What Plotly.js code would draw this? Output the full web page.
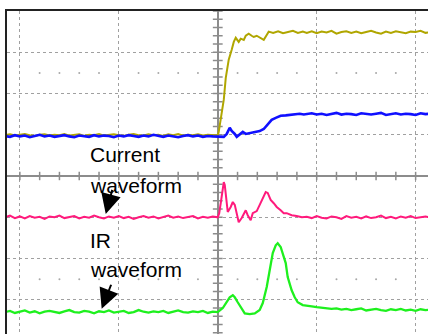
<!DOCTYPE html>
<html>
<head>
<meta charset="utf-8">
<script src="https://cdn.plot.ly/plotly-3.0.1.min.js"></script>
<style>html,body{margin:0;padding:0;background:#fff;}#chart{width:428px;height:334px;}</style>
</head>
<body>
<div id="chart"></div>
<script>
// time in screen divisions relative to the trigger (x = 0)
const tPre = [-2.15,-2.10,-2.05,-2.00,-1.95,-1.90,-1.85,-1.80,-1.75,-1.70,-1.65,
              -1.60,-1.55,-1.50,-1.45,-1.40,-1.35,-1.30,-1.25,-1.20,-1.15,-1.10,
              -1.05,-1.00,-0.95,-0.90,-0.85,-0.80,-0.75,-0.70,-0.65,-0.60,-0.55,
              -0.50,-0.45,-0.40,-0.35,-0.30,-0.25,-0.20,-0.15,-0.10,-0.05,0.00];
const tTail = [0.90,0.95,1.00,1.05,1.10,1.15,1.20,1.25,1.30,1.35,1.40,1.45,1.50,
               1.55,1.60,1.65,1.70,1.75,1.80,1.85,1.90,1.95,2.00,2.05,2.10,2.15];

// olive trace (step)
const olivePre = [0.99,1.01,0.98,1.00,1.02,0.99,0.97,1.00,1.01,0.98,1.00,
                  0.99,1.02,0.98,0.99,1.01,0.97,1.00,0.99,1.02,0.98,1.00,
                  1.01,0.99,0.97,1.00,1.02,0.99,0.98,1.01,0.99,1.00,0.97,
                  1.01,0.99,1.02,0.98,1.00,0.99,1.01,0.98,1.00,0.99,0.98];
const oliveT = [0.01,0.03,0.061,0.081,0.091,0.111,0.141,0.162,0.182,0.212,
                0.232,0.263,0.283,0.313,0.343,0.364,0.394,0.414,0.444,0.465,
                0.495,0.515,0.56,0.61,0.66,0.71,0.76,0.81,0.86];
const oliveV = [1.07,1.36,1.85,2.38,2.57,2.82,3.06,3.25,3.35,3.25,
                3.33,3.30,3.40,3.45,3.40,3.37,3.40,3.37,3.33,3.30,
                3.42,3.50,3.47,3.51,3.46,3.49,3.52,3.47,3.50];
const oliveTail = [3.47,3.51,3.46,3.50,3.48,3.52,3.45,3.49,3.51,3.47,
                   3.50,3.46,3.49,3.52,3.48,3.45,3.50,3.47,3.51,3.48,
                   3.46,3.50,3.49,3.52,3.47,3.49];

// blue trace (slow step)
const bluePre = [0.97,0.95,0.99,0.96,0.98,0.94,0.97,1.00,0.96,0.98,0.95,
                 0.97,0.99,0.96,0.94,0.98,0.97,0.95,0.99,0.96,0.98,0.97,
                 0.94,0.98,0.96,0.99,0.97,0.95,0.98,0.96,1.00,0.97,0.95,
                 0.98,0.96,0.94,0.97,0.99,0.96,0.98,0.95,0.97,0.96,0.95];
const blueT = [0.03,0.061,0.091,0.121,0.141,0.172,0.192,0.222,0.253,0.283,
               0.323,0.374,0.424,0.465,0.505,0.545,0.586,0.636,0.687,0.727,
               0.778,0.828,0.87];
const blueV = [0.96,0.95,1.02,1.17,1.09,1.02,0.95,1.02,1.07,1.02,
               1.04,1.07,1.09,1.14,1.26,1.36,1.41,1.46,1.47,1.48,
               1.50,1.51,1.49];
const blueTail = [1.50,1.52,1.49,1.51,1.48,1.50,1.53,1.49,1.51,1.50,
                  1.48,1.52,1.50,1.49,1.51,1.53,1.48,1.50,1.52,1.49,
                  1.51,1.50,1.48,1.52,1.50,1.51];

// current waveform (pink)
const pinkPre = [-1.00,-0.96,-1.02,-0.98,-1.03,-0.97,-1.01,-0.99,-1.04,-0.98,-1.00,
                 -0.96,-1.02,-1.00,-0.97,-1.03,-0.99,-1.01,-0.96,-1.00,-1.03,-0.98,
                 -1.01,-0.97,-1.02,-0.99,-1.04,-1.00,-0.97,-1.01,-0.98,-1.03,-0.99,
                 -0.96,-1.01,-0.98,-1.02,-1.00,-0.97,-1.03,-0.99,-1.01,-0.98,-1.00];
const pinkT = [0.015,0.03,0.051,0.061,0.071,0.091,0.101,0.131,0.152,0.172,
               0.192,0.212,0.242,0.263,0.283,0.303,0.333,0.354,0.394,0.424,
               0.455,0.485,0.505,0.535,0.566,0.596,0.636,0.667,0.697,0.747,
               0.798,0.85];
const pinkV = [-0.90,-0.66,-0.27,-0.15,-0.22,-0.66,-0.87,-0.75,-0.63,-0.70,
               -0.90,-1.12,-1.02,-0.90,-0.83,-0.95,-1.07,-0.90,-0.85,-0.70,
               -0.53,-0.39,-0.41,-0.58,-0.66,-0.75,-0.83,-0.90,-0.90,-0.95,
               -0.97,-1.00];
const pinkTail = [-0.99,-1.02,-0.97,-1.01,-1.03,-0.98,-1.00,-1.04,-0.97,-1.01,
                  -0.99,-1.03,-0.98,-1.02,-1.00,-0.96,-1.02,-0.99,-1.03,-0.98,
                  -1.01,-0.97,-1.02,-1.00,-0.98,-1.01];

// IR waveform (green)
const greenPre = [-3.30,-3.27,-3.32,-3.29,-3.26,-3.31,-3.28,-3.33,-3.29,-3.27,-3.30,
                  -3.32,-3.28,-3.25,-3.30,-3.31,-3.27,-3.29,-3.33,-3.28,-3.30,-3.26,
                  -3.31,-3.29,-3.27,-3.32,-3.30,-3.25,-3.29,-3.31,-3.28,-3.30,-3.27,
                  -3.32,-3.29,-3.26,-3.30,-3.31,-3.28,-3.30,-3.27,-3.32,-3.29,-3.30];
const greenT = [0.051,0.091,0.121,0.152,0.172,0.202,0.242,0.273,0.323,0.374,
                0.424,0.455,0.495,0.525,0.556,0.586,0.606,0.636,0.657,0.687,
                0.707,0.747,0.778,0.808,0.859];
const greenV = [-3.20,-3.06,-2.94,-2.89,-2.94,-3.06,-3.20,-3.33,-3.35,-3.33,
                -3.25,-3.08,-2.69,-2.28,-1.87,-1.68,-1.63,-1.72,-1.87,-2.11,
                -2.45,-2.77,-2.94,-3.06,-3.13];
const greenTail = [-3.15,-3.16,-3.18,-3.19,-3.20,-3.22,-3.21,-3.24,-3.22,-3.25,
                   -3.23,-3.21,-3.26,-3.24,-3.22,-3.25,-3.27,-3.23,-3.25,-3.22,
                   -3.26,-3.24,-3.27,-3.23,-3.25,-3.24];

const labels = ["Current", "waveform", "IR", "waveform"];

// ---- graticule decorations (sub-division marks) ----
const sub = [];
for (let k = -11; k <= 11; k++) sub.push(Math.round(k * 20) / 100);
const subY = [];
for (let k = -20; k <= 20; k++) subY.push(Math.round(k * 20) / 100);
const dotX = sub.filter(v => Math.abs(v - Math.round(v)) > 0.01);
const gridGray = '#8c8c8c';

const traces = [
  { x: sub, y: sub.map(() => 0), mode: 'markers', hoverinfo: 'skip',
    marker: { symbol: 'line-ns-open', size: 6, color: gridGray, line: { color: gridGray, width: 1.5 } } },
  { x: subY.map(() => 0), y: subY, mode: 'markers', hoverinfo: 'skip',
    marker: { symbol: 'line-ew-open', size: 7, color: gridGray, line: { color: gridGray, width: 1.5 } } },
  { x: dotX.concat(dotX), y: dotX.map(() => 2.5).concat(dotX.map(() => -2.5)),
    mode: 'markers', hoverinfo: 'skip', marker: { size: 2, color: '#a8a8a8' } },
  { x: tPre.concat(oliveT, tTail), y: olivePre.concat(oliveV, oliveTail),
    mode: 'lines', line: { color: '#b0a600', width: 2 } },
  { x: tPre.concat(blueT, tTail), y: bluePre.concat(blueV, blueTail),
    mode: 'lines', line: { color: '#1010ff', width: 2.6 } },
  { x: tPre.concat(pinkT, tTail), y: pinkPre.concat(pinkV, pinkTail),
    mode: 'lines', line: { color: '#ff1a7c', width: 2 } },
  { x: tPre.concat(greenT, tTail), y: greenPre.concat(greenV, greenTail),
    mode: 'lines', line: { color: '#1ef01e', width: 2.3 } }
];

const txtFont = { family: 'Liberation Sans, Arial, sans-serif', size: 21, color: '#000' };
const annY = [0.52, -0.24, -1.57, -2.27];
const annotations = labels.map((t, i) => ({
  text: t, x: -1.31, y: annY[i], xref: 'x', yref: 'y', xanchor: 'left', yanchor: 'middle',
  showarrow: false, font: txtFont
}));
annotations.push(
  { text: '', x: -1.132, y: -0.92, ax: -1.062, ay: -0.30, axref: 'x', ayref: 'y',
    xref: 'x', yref: 'y', showarrow: true, arrowhead: 2, arrowsize: 2, arrowwidth: 2, arrowcolor: '#000' },
  { text: '', x: -1.173, y: -3.22, ax: -1.072, ay: -2.60, axref: 'x', ayref: 'y',
    xref: 'x', yref: 'y', showarrow: true, arrowhead: 2, arrowsize: 2, arrowwidth: 2, arrowcolor: '#000' }
);

const layout = {
  width: 428, height: 334,
  margin: { l: 7, r: 0, t: 11, b: 0 },
  paper_bgcolor: '#fff', plot_bgcolor: '#fff',
  showlegend: false, hovermode: false,
  xaxis: { range: [-2.13, 2.125], side: 'top', dtick: 1, tick0: 0,
           showgrid: true, gridcolor: '#a0a0a0', griddash: 'dot', gridwidth: 1,
           zeroline: true, zerolinecolor: gridGray, zerolinewidth: 2,
           showline: true, linecolor: '#222', linewidth: 2,
           ticks: '', showticklabels: false, fixedrange: true },
  yaxis: { range: [-3.83, 4], dtick: 1, tick0: 0,
           showgrid: true, gridcolor: '#a0a0a0', griddash: 'dot', gridwidth: 1,
           zeroline: true, zerolinecolor: gridGray, zerolinewidth: 2,
           showline: true, linecolor: '#222', linewidth: 2,
           ticks: '', showticklabels: false, fixedrange: true },
  annotations: annotations
};

Plotly.newPlot('chart', traces, layout, { staticPlot: true, displayModeBar: false });
</script>
</body>
</html>
